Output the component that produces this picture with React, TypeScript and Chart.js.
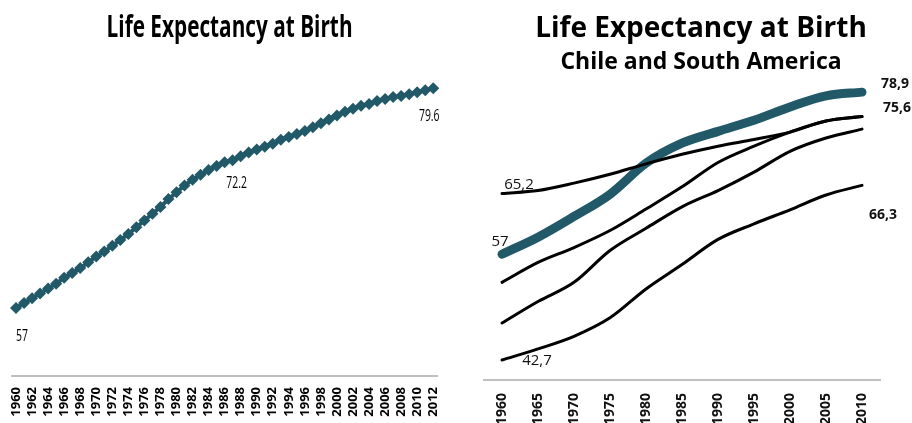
import React, { useEffect, useRef } from "react";
import { Chart, registerables } from "chart.js";

Chart.register(...registerables);

// ---------- Left chart data (Chile, yearly) ----------
const yearsLeft = [
  "1960","1961","1962","1963","1964","1965","1966","1967","1968","1969",
  "1970","1971","1972","1973","1974","1975","1976","1977","1978","1979",
  "1980","1981","1982","1983","1984","1985","1986","1987","1988","1989",
  "1990","1991","1992","1993","1994","1995","1996","1997","1998","1999",
  "2000","2001","2002","2003","2004","2005","2006","2007","2008","2009",
  "2010","2011","2012",
];
const chileYearly = [
  57.0, 57.5, 58.0, 58.5, 59.0, 59.5, 60.1, 60.6, 61.1, 61.7,
  62.3, 62.8, 63.4, 64.0, 64.6, 65.3, 66.0, 66.7, 67.4, 68.2,
  68.9, 69.6, 70.2, 70.7, 71.2, 71.6, 72.0, 72.2, 72.6, 73.0,
  73.3, 73.6, 73.9, 74.3, 74.6, 74.9, 75.2, 75.6, 76.0, 76.4,
  76.8, 77.2, 77.5, 77.8, 78.0, 78.3, 78.5, 78.7, 78.8, 79.0,
  79.2, 79.4, 79.6,
];
const leftLabelIdx = [0, 27, 52];

// ---------- Right chart data (Chile and South America, 5-yearly) ----------
const yearsRight = ["1960","1965","1970","1975","1980","1985","1990","1995","2000","2005","2010"];
const chile5 = [57.0, 59.3, 62.1, 65.1, 69.3, 72.0, 73.6, 75.1, 76.9, 78.4, 78.9];
const countryA = [65.2, 65.6, 66.6, 67.8, 69.2, 70.5, 71.6, 72.5, 73.5, 75.0, 75.6];
const countryB = [53.2, 55.9, 57.9, 60.2, 63.1, 66.1, 69.4, 71.6, 73.5, 75.0, 75.6];
const countryC = [47.7, 50.6, 53.2, 57.5, 60.5, 63.4, 65.6, 68.1, 70.9, 72.7, 73.9];
const countryD = [42.7, 44.2, 45.9, 48.4, 52.3, 55.6, 59.0, 61.1, 63.0, 65.0, 66.3];

const TEAL = "#215968";

const valueLabelPlugin = {
  id: "valueLabels",
  afterDatasetsDraw(chart: any, _args: any, opts: any) {
    if (!opts || !opts.items) return;
    const ctx = chart.ctx;
    for (const it of opts.items) {
      const meta = chart.getDatasetMeta(it.dataset);
      const pt = meta.data[it.index];
      if (!pt) continue;
      const v = chart.data.datasets[it.dataset].data[it.index];
      const text = opts.comma ? String(v).replace(".", ",") : String(v);
      ctx.save();
      ctx.translate(pt.x + it.dx, pt.y + it.dy);
      ctx.scale(opts.scaleX || 1, 1);
      ctx.font = it.font || opts.font;
      ctx.fillStyle = opts.color || "#000";
      ctx.textAlign = "center";
      ctx.textBaseline = "middle";
      ctx.fillText(text, 0, 0);
      ctx.restore();
    }
  },
};

export default function App() {
  const leftRef = useRef<HTMLCanvasElement>(null);
  const rightRef = useRef<HTMLCanvasElement>(null);

  useEffect(() => {
    const left = new Chart(leftRef.current as HTMLCanvasElement, {
      type: "line",
      data: {
        labels: yearsLeft,
        datasets: [
          {
            data: chileYearly,
            borderColor: TEAL,
            backgroundColor: TEAL,
            borderWidth: 4,
            pointStyle: "rectRot",
            pointRadius: 6,
            pointBorderWidth: 0,
            pointBackgroundColor: TEAL,
            tension: 0,
            clip: false as any,
          },
        ],
      },
      options: {
        responsive: false,
        animation: false,
        layout: { padding: { left: 12, right: 16, top: 65, bottom: 0 } },
        plugins: {
          legend: { display: false },
          tooltip: { enabled: false },
          valueLabels: {
            font: '16px "Open Sans"',
            scaleX: 0.65,
            color: "#000",
            items: [
              { dataset: 0, index: leftLabelIdx[0], dx: 6, dy: 28 },
              { dataset: 0, index: leftLabelIdx[1], dx: 4, dy: 23 },
              { dataset: 0, index: leftLabelIdx[2], dx: -4, dy: 28 },
            ],
          },
        } as any,
        scales: {
          x: {
            offset: true,
            afterFit: (s: any) => { s.height = 47; },
            grid: { display: true, drawOnChartArea: false, drawTicks: false },
            border: { display: true, color: "#bfbfbf", width: 2 },
            ticks: {
              autoSkip: false,
              minRotation: 90,
              maxRotation: 90,
              padding: 11,
              color: "#000",
              font: { family: "Open Sans", weight: "bold", size: 13 },
              callback: function (this: any, _v: any, i: number) {
                return i % 2 === 0 ? yearsLeft[i] : "";
              },
            },
          },
          y: { display: false, min: 50, max: 82 },
        },
      },
      plugins: [valueLabelPlugin],
    } as any);

    const blackLine = (data: number[]) => ({
      data,
      borderColor: "#000",
      borderWidth: 3,
      pointRadius: 0,
      cubicInterpolationMode: "monotone",
      borderCapStyle: "round",
      clip: false,
    });

    const right = new Chart(rightRef.current as HTMLCanvasElement, {
      type: "line",
      data: {
        labels: yearsRight,
        datasets: [
          blackLine(countryA),
          blackLine(countryB),
          blackLine(countryC),
          blackLine(countryD),
          {
            data: chile5,
            borderColor: TEAL,
            borderWidth: 9,
            pointRadius: 0,
            cubicInterpolationMode: "monotone",
            borderCapStyle: "round",
            clip: false,
          },
        ],
      },
      options: {
        responsive: false,
        animation: false,
        layout: { padding: { left: 24, right: 32, top: 84, bottom: 0 } },
        plugins: {
          legend: { display: false },
          tooltip: { enabled: false },
          valueLabels: {
            font: 'bold 14px "Open Sans"',
            comma: true,
            color: "#111",
            items: [
              { dataset: 4, index: 0, dx: -2, dy: -12, font: '15px "Open Sans"' },
              { dataset: 0, index: 0, dx: 17, dy: -9, font: '15px "Open Sans"' },
              { dataset: 3, index: 0, dx: 35, dy: 1, font: '15px "Open Sans"' },
              { dataset: 4, index: 10, dx: 33, dy: -8 },
              { dataset: 0, index: 10, dx: 35, dy: -9 },
              { dataset: 3, index: 10, dx: 21, dy: 30 },
            ],
          },
        } as any,
        scales: {
          x: {
            offset: true,
            afterFit: (s: any) => { s.height = 43; },
            grid: { display: true, drawOnChartArea: false, drawTicks: false },
            border: { display: true, color: "#bfbfbf", width: 2 },
            ticks: {
              autoSkip: false,
              minRotation: 90,
              maxRotation: 90,
              padding: 13,
              color: "#111",
              font: { family: "Open Sans", weight: "bold", size: 14 },
            },
          },
          y: { display: false, min: 40, max: 80 },
        },
      },
      plugins: [valueLabelPlugin],
    } as any);

    return () => {
      left.destroy();
      right.destroy();
    };
  }, []);

  const titleBase: React.CSSProperties = {
    position: "absolute",
    textAlign: "center",
    fontFamily: '"Open Sans", sans-serif',
    fontWeight: 700,
    lineHeight: 1,
    color: "#000",
    whiteSpace: "nowrap",
  };

  return (
    <div style={{ position: "absolute", left: 0, top: 0, width: 912, height: 423, background: "#fff", overflow: "hidden" }}>
      <canvas ref={leftRef} width={460} height={423} style={{ position: "absolute", left: 0, top: 0 }} />
      <canvas ref={rightRef} width={452} height={423} style={{ position: "absolute", left: 460, top: 0 }} />
      <div style={{ ...titleBase, left: 0, top: 9.5, width: 460, fontSize: 31 }}>
        <span style={{ display: "inline-block", transform: "scaleX(0.67)" }}>Life Expectancy at Birth</span>
      </div>
      <div style={{ ...titleBase, left: 480, top: 12, width: 442, fontSize: 28 }}>Life Expectancy at Birth</div>
      <div style={{ ...titleBase, left: 480, top: 49, width: 442, fontSize: 23 }}>Chile and South America</div>
    </div>
  );
}
